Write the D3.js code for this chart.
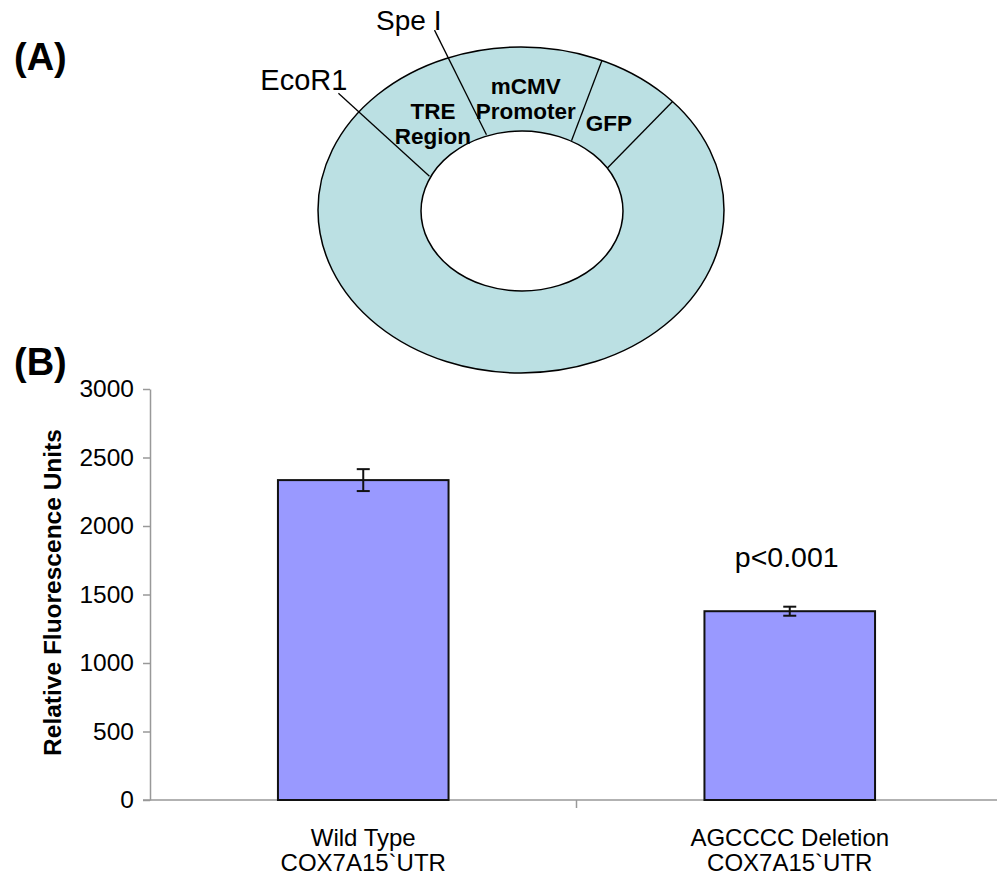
<!DOCTYPE html>
<html>
<head>
<meta charset="utf-8">
<script src="https://cdn.jsdelivr.net/npm/d3@7"></script>
<style>
  body { margin: 0; background: #fff; }
  svg { display: block; font-family: "Liberation Sans", Arial, sans-serif; }
</style>
</head>
<body>
<script>
// plasmid map
const segmentNames = [["TRE", "Region"], ["mCMV", "Promoter"], ["GFP"]];
const segmentLabelAngles = [231, 272, 309];
const dividerInner = [205, 250, 300, 328.6];
const dividerOuter = [217, 249, 293.5, 318.3];
const siteNames = ["EcoR1", "Spe I", null, null];

// bar chart
const categories = [["Wild Type", "COX7A15`UTR"], ["AGCCCC Deletion", "COX7A15`UTR"]];
const values = [2335, 1378];
const errors = [80, 33];
const yTicks = [0, 500, 1000, 1500, 2000, 2500, 3000];
const pLabel = "p<0.001";

const W = 997, H = 878;
const svg = d3.select("body").append("svg")
    .attr("width", W)
    .attr("height", H);

// ---- (A) ring ----
const ring = { cx: 521, cy: 210, outer: [203, 163], inner: [101, 80], mid: [152, 121.5] };
const pt = (r, deg, k = 1) => {
  const a = deg * Math.PI / 180;
  return [ring.cx + r[0] * k * Math.cos(a), ring.cy + r[1] * k * Math.sin(a)];
};

svg.append("ellipse")
    .attr("cx", ring.cx).attr("cy", ring.cy)
    .attr("rx", ring.outer[0]).attr("ry", ring.outer[1])
    .attr("fill", "#bbe0e3").attr("stroke", "#000").attr("stroke-width", 1.5);
svg.append("ellipse")
    .attr("cx", ring.cx + 1).attr("cy", ring.cy + 1)
    .attr("rx", ring.inner[0]).attr("ry", ring.inner[1])
    .attr("fill", "#fff").attr("stroke", "#000").attr("stroke-width", 1.5);

const ext = [1.29, 1.36, 1, 1];
dividerInner.forEach((a, i) => {
  const p0 = pt(ring.inner, a);
  const p1 = pt(ring.outer, dividerOuter[i]);
  const p2 = [p0[0] + (p1[0] - p0[0]) * ext[i], p0[1] + (p1[1] - p0[1]) * ext[i]];
  svg.append("line")
      .attr("x1", p0[0]).attr("y1", p0[1])
      .attr("x2", p2[0]).attr("y2", p2[1])
      .attr("stroke", "#000").attr("stroke-width", 1.3);
  if (siteNames[i]) {
    svg.append("text")
        .attr("x", p2[0] + (i === 0 ? 9 : 7))
        .attr("y", p2[1] + (i === 0 ? -3 : 0))
        .attr("text-anchor", "end")
        .attr("font-size", i === 0 ? 29 : 28)
        .text(siteNames[i]);
  }
});

segmentNames.forEach((lines, i) => {
  const [x, y] = pt(ring.mid, segmentLabelAngles[i], 0.92);
  const t = svg.append("text")
      .attr("text-anchor", "middle")
      .attr("font-size", 22.5)
      .attr("font-weight", "bold");
  const lh = 25;
  lines.forEach((s, j) => {
    t.append("tspan")
        .attr("x", x)
        .attr("y", y + 8 + (j - (lines.length - 1) / 2) * lh)
        .text(s);
  });
});

svg.append("text").attr("x", 14).attr("y", 70)
    .attr("font-size", 38).attr("font-weight", "bold").text("(A)");
svg.append("text").attr("x", 14).attr("y", 375)
    .attr("font-size", 38).attr("font-weight", "bold").text("(B)");

// ---- (B) bar chart ----
const plot = { left: 150, right: 1003, top: 389, bottom: 800 };

const x = d3.scaleBand()
    .domain(d3.range(categories.length))
    .range([plot.left, plot.right])
    .paddingInner(0.6)
    .paddingOuter(0.3);

const y = d3.scaleLinear()
    .domain([0, 3000])
    .range([plot.bottom, plot.top]);

const yAxis = svg.append("g")
    .attr("transform", `translate(${plot.left},0)`)
    .call(d3.axisLeft(y).tickValues(yTicks).tickFormat(d3.format("d"))
      .tickSize(7).tickSizeOuter(0).tickPadding(9));
yAxis.select(".domain").attr("stroke", "#999").attr("stroke-width", 1.5);
yAxis.selectAll(".tick line").attr("stroke", "#999").attr("stroke-width", 1.5);
yAxis.selectAll(".tick text")
    .attr("font-size", 24.5).attr("font-family", "Liberation Sans, Arial, sans-serif")
    .attr("fill", "#000");

// x axis baseline + category boundary ticks
svg.append("line")
    .attr("x1", plot.left - 7).attr("x2", plot.right)
    .attr("y1", y(0)).attr("y2", y(0))
    .attr("stroke", "#999").attr("stroke-width", 1.5);
svg.selectAll(".xtick")
    .data(d3.range(1, categories.length))
    .enter().append("line")
    .attr("x1", i => x.range()[0] + i * (x.range()[1] - x.range()[0]) / categories.length)
    .attr("x2", i => x.range()[0] + i * (x.range()[1] - x.range()[0]) / categories.length)
    .attr("y1", y(0)).attr("y2", y(0) + 8)
    .attr("stroke", "#999").attr("stroke-width", 1.5);

svg.selectAll(".bar")
    .data(values)
    .enter().append("rect")
    .attr("x", (d, i) => x(i))
    .attr("y", d => y(d))
    .attr("width", x.bandwidth())
    .attr("height", d => y(0) - y(d))
    .attr("fill", "#9999ff")
    .attr("stroke", "#111")
    .attr("stroke-width", 2);

// error bars
values.forEach((v, i) => {
  const cx = x(i) + x.bandwidth() / 2;
  const g = svg.append("g").attr("stroke", "#111").attr("stroke-width", 2);
  g.append("line").attr("x1", cx).attr("x2", cx).attr("y1", y(v + errors[i])).attr("y2", y(v - errors[i]));
  [v + errors[i], v - errors[i]].forEach(e => {
    g.append("line").attr("x1", cx - 6.5).attr("x2", cx + 6.5).attr("y1", y(e)).attr("y2", y(e));
  });
});

// category labels
categories.forEach((lines, i) => {
  const cx = x(i) + x.bandwidth() / 2;
  const t = svg.append("text").attr("text-anchor", "middle").attr("font-size", 24);
  lines.forEach((s, j) => {
    t.append("tspan").attr("x", cx).attr("y", 846 + j * 25).text(s);
  });
});

// significance
svg.append("text")
    .attr("x", x(1) + x.bandwidth() / 2 - 3)
    .attr("y", 567)
    .attr("text-anchor", "middle")
    .attr("font-size", 28.5)
    .text(pLabel);

// y title
svg.append("text")
    .attr("transform", `translate(61,${(plot.top + plot.bottom) / 2 - 2}) rotate(-90)`)
    .attr("text-anchor", "middle")
    .attr("font-size", 24.5)
    .attr("font-weight", "bold")
    .text("Relative Fluorescence Units");
</script>
</body>
</html>
